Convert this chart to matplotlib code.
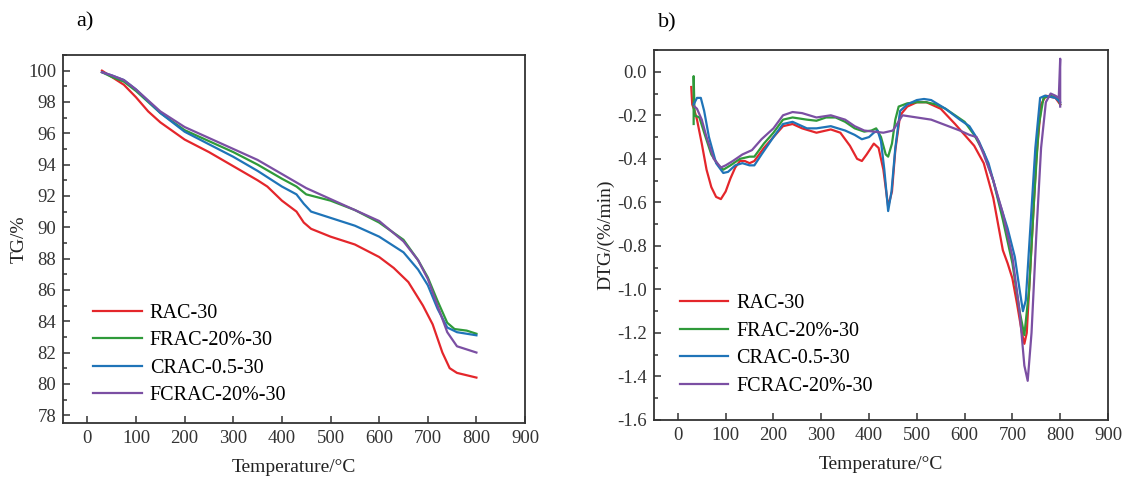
import matplotlib
matplotlib.use('Agg')
import matplotlib.pyplot as plt
from matplotlib.ticker import MultipleLocator, FuncFormatter

plt.rcParams['font.family'] = ['Liberation Serif', 'DejaVu Serif']

names = ['RAC-30', 'FRAC-20%-30', 'CRAC-0.5-30', 'FCRAC-20%-30']
colors = ['#e4262b', '#2f9a3a', '#1f74b8', '#7b4fa3']

# TG curves (temperature in C, mass in %)
tg_rac_t = [30, 50, 75, 100, 125, 150, 200, 250, 300, 350, 370, 400, 430, 445, 460,
            500, 550, 600, 630, 660, 690, 710, 730, 745, 760, 800]
tg_rac_v = [100.0, 99.6, 99.1, 98.3, 97.4, 96.7, 95.6, 94.8, 93.9, 93.0, 92.6, 91.7, 91.0,
            90.3, 89.9, 89.4, 88.9, 88.1, 87.4, 86.5, 85.0, 83.8, 82.0, 81.0, 80.7, 80.4]

tg_frac_t = [30, 50, 75, 100, 150, 200, 250, 300, 350, 400, 430, 450, 500, 550, 600,
             650, 680, 700, 720, 740, 755, 780, 800]
tg_frac_v = [99.9, 99.6, 99.3, 98.7, 97.3, 96.2, 95.5, 94.8, 94.0, 93.1, 92.6, 92.1, 91.7,
             91.1, 90.3, 89.2, 87.9, 86.8, 85.3, 83.9, 83.5, 83.4, 83.2]

tg_crac_t = [30, 50, 75, 100, 150, 200, 250, 300, 350, 400, 430, 445, 460, 500, 550,
             600, 650, 680, 700, 720, 740, 760, 800]
tg_crac_v = [99.9, 99.7, 99.4, 98.8, 97.3, 96.1, 95.3, 94.5, 93.6, 92.6, 92.1, 91.5, 91.0,
             90.6, 90.1, 89.4, 88.4, 87.3, 86.3, 84.8, 83.6, 83.3, 83.1]

tg_fcrac_t = [30, 50, 75, 100, 150, 200, 250, 300, 350, 400, 450, 500, 550, 600, 650,
              680, 700, 720, 740, 760, 780, 800]
tg_fcrac_v = [99.9, 99.7, 99.4, 98.8, 97.4, 96.4, 95.7, 95.0, 94.3, 93.4, 92.5, 91.8, 91.1,
              90.4, 89.1, 87.9, 86.7, 85.0, 83.3, 82.4, 82.2, 82.0]

# DTG curves (temperature in C, rate in %/min)
dtg_rac_t = [28, 30, 35, 40, 50, 60, 70, 80, 90, 100, 110, 120, 130, 140, 150, 160, 180,
             200, 220, 240, 260, 290, 320, 340, 360, 375, 385, 395, 410, 420, 430, 440,
             448, 455, 465, 480, 500, 520, 550, 580, 600, 620, 640, 660, 670, 680, 690,
             700, 710, 720, 725, 730, 740, 750, 760, 770, 790, 800]
dtg_rac_v = [-0.07, -0.15, -0.18, -0.22, -0.33, -0.45, -0.53, -0.575, -0.585, -0.55, -0.49,
             -0.44, -0.41, -0.41, -0.42, -0.41, -0.35, -0.30, -0.25, -0.24, -0.26, -0.28,
             -0.265, -0.28, -0.34, -0.40, -0.41, -0.38, -0.33, -0.35, -0.45, -0.62, -0.55,
             -0.36, -0.20, -0.16, -0.14, -0.14, -0.17, -0.24, -0.29, -0.34, -0.42, -0.58,
             -0.70, -0.82, -0.88, -0.95, -1.07, -1.20, -1.25, -1.20, -0.80, -0.40, -0.15,
             -0.11, -0.12, -0.15]

dtg_frac_t = [33, 33, 35, 45, 55, 70, 85, 95, 110, 130, 150, 160, 180, 200, 220, 240, 270,
              290, 310, 330, 350, 370, 390, 405, 415, 425, 435, 440, 448, 455, 462, 480,
              500, 520, 540, 560, 580, 600, 620, 640, 660, 680, 700, 715, 725, 735, 745,
              755, 765, 780, 795, 800]
dtg_frac_v = [-0.24, -0.02, -0.20, -0.21, -0.28, -0.38, -0.43, -0.45, -0.43, -0.40, -0.39,
              -0.39, -0.33, -0.28, -0.22, -0.21, -0.22, -0.225, -0.21, -0.21, -0.23, -0.26,
              -0.275, -0.27, -0.26, -0.30, -0.38, -0.39, -0.33, -0.22, -0.16, -0.145, -0.14,
              -0.14, -0.15, -0.17, -0.20, -0.23, -0.29, -0.37, -0.50, -0.68, -0.88, -1.10,
              -1.21, -1.00, -0.60, -0.25, -0.12, -0.11, -0.12, -0.15]

dtg_crac_t = [33, 40, 48, 55, 65, 80, 95, 105, 120, 135, 150, 160, 175, 200, 220, 240, 270,
              290, 320, 350, 370, 385, 400, 410, 418, 425, 432, 440, 447, 455, 465, 480,
              500, 515, 530, 560, 590, 610, 630, 650, 670, 690, 705, 715, 722, 728, 738,
              748, 758, 768, 790, 800]
dtg_crac_v = [-0.15, -0.12, -0.12, -0.18, -0.30, -0.42, -0.465, -0.46, -0.43, -0.42, -0.43,
              -0.43, -0.38, -0.30, -0.24, -0.23, -0.26, -0.26, -0.25, -0.27, -0.29, -0.31,
              -0.30, -0.28, -0.27, -0.32, -0.45, -0.64, -0.55, -0.35, -0.18, -0.15, -0.13,
              -0.125, -0.13, -0.17, -0.22, -0.25, -0.32, -0.42, -0.58, -0.72, -0.85, -1.00,
              -1.10, -1.05, -0.70, -0.35, -0.12, -0.11, -0.12, -0.14]

dtg_fcrac_t = [35, 40, 50, 60, 75, 90, 100, 115, 135, 155, 175, 200, 220, 240, 260, 290,
               320, 350, 370, 390, 410, 430, 450, 470, 500, 530, 560, 590, 610, 625, 640,
               660, 680, 700, 715, 725, 732, 740, 750, 760, 770, 780, 790, 797, 800, 800]
dtg_fcrac_v = [-0.16, -0.17, -0.22, -0.30, -0.40, -0.44, -0.43, -0.41, -0.38, -0.36, -0.31,
               -0.26, -0.20, -0.185, -0.19, -0.21, -0.20, -0.22, -0.25, -0.27, -0.275, -0.28,
               -0.27, -0.20, -0.21, -0.22, -0.245, -0.27, -0.29, -0.30, -0.38, -0.50, -0.65,
               -0.85, -1.10, -1.35, -1.42, -1.20, -0.75, -0.35, -0.14, -0.10, -0.11, -0.12,
               0.06, -0.16]

tg_series = [(tg_rac_t, tg_rac_v), (tg_frac_t, tg_frac_v),
             (tg_crac_t, tg_crac_v), (tg_fcrac_t, tg_fcrac_v)]
dtg_series = [(dtg_rac_t, dtg_rac_v), (dtg_frac_t, dtg_frac_v),
              (dtg_crac_t, dtg_crac_v), (dtg_fcrac_t, dtg_fcrac_v)]

fig = plt.figure(figsize=(11.26, 4.79), dpi=100)
ax1 = fig.add_axes([0.0560, 0.1169, 0.4103, 0.7683])
ax2 = fig.add_axes([0.5808, 0.1232, 0.4032, 0.7724])


def style(ax):
    for s in ax.spines.values():
        s.set_color('#333333')
        s.set_linewidth(1.3)
    ax.tick_params(which='both', direction='in', colors='#333333', labelcolor='#333333',
                   labelsize=13.5, width=1.1)
    ax.tick_params(which='major', length=5, pad=5)
    ax.tick_params(which='minor', length=3)
    ax.tick_params(axis='x', which='minor', length=0)
    ax.set_xlim(-50, 900)
    ax.xaxis.set_major_locator(MultipleLocator(100))
    ax.set_xlabel('Temperature/°C', fontsize=14, color='#222222', labelpad=9)


leg_kw = dict(loc='lower left', frameon=False, fontsize=14.5, handlelength=2.4,
              handletextpad=0.4, labelspacing=0.42, borderaxespad=0.3)

for (t, v), c, n in zip(tg_series, colors, names):
    ax1.plot(t, v, color=c, lw=1.6, label=n)
style(ax1)
ax1.set_ylim(77.5, 101)
ax1.yaxis.set_major_locator(MultipleLocator(2))
ax1.yaxis.set_minor_locator(MultipleLocator(1))
ax1.set_ylabel('TG/%', fontsize=14, color='#222222', labelpad=0)
ax1.legend(bbox_to_anchor=(0.035, 0.010), **leg_kw)

for (t, v), c, n in zip(dtg_series, colors, names):
    ax2.plot(t, v, color=c, lw=1.6, label=n)
style(ax2)
ax2.set_ylim(-1.6, 0.1)
ax2.yaxis.set_major_locator(MultipleLocator(0.2))
ax2.yaxis.set_minor_locator(MultipleLocator(0.1))
ax2.yaxis.set_major_formatter(FuncFormatter(lambda y, p: f'{y:.1f}'.replace('−', '-')))
ax2.set_ylabel('DTG/(%/min)', fontsize=14, color='#222222', labelpad=2)
ax2.legend(bbox_to_anchor=(0.026, 0.027), **leg_kw)

fig.text(0.0755, 0.955, 'a)', fontsize=16, ha='center', va='center')
fig.text(0.593, 0.952, 'b)', fontsize=16, ha='center', va='center')

fig.savefig('out.png', dpi=100)
